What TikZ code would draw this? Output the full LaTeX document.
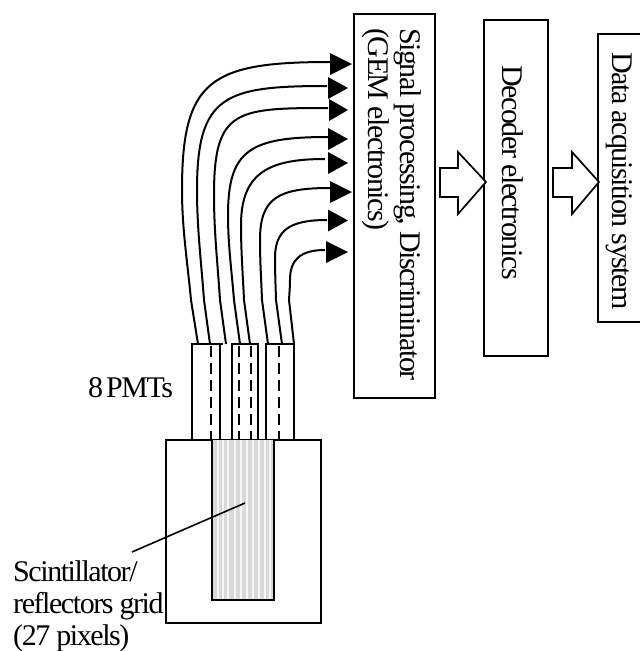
\documentclass[tikz,border=0pt]{standalone}
\usepackage{fontspec}
\setmainfont[LetterSpace=-4.8]{Liberation Serif}
\tikzset{
 x=1pt,y=-1pt,
 box/.style={draw,line width=2pt},
 lbl/.style={font=\fontsize{30}{32}\selectfont,inner sep=0pt,align=left},
 vlbl/.style={lbl,rotate=-90,anchor=base west},
 sig/.style={line width=2pt},
 head/.style={fill=black,draw=none},
 block/.style={draw,line width=1.7pt,fill=white,line join=miter},
 pmt/.style={line width=2pt},
 dashline/.style={line width=1.8pt,dash pattern=on 11pt off 6pt},
}
\newcommand{\sigline}[9]{%
 \coordinate (s#1) at (#2,344);
 \coordinate (e#1) at (#8,#9);
 \draw[sig] (s#1) -- (#3,300) .. controls ({#3*.6+#4*.4},{300-(300-#5)*.35}) and (#4,{300-(300-#5)*.65}) .. (#4,#5) .. controls (#4,#6) and (#7,#9) .. (e#1);
}
\newcommand{\tip}[5]{%
 \fill[head] (#2,#4-#5) -- (#3,#4) -- (#2,#4+#5) -- cycle;
}
\begin{document}
\begin{tikzpicture}
\useasboundingbox (0,0) rectangle (640,651);
\sigline{1}{198}{191}{182}{190}{80}{210}{330}{62}
\sigline{2}{210}{204}{197}{190}{95}{225}{327}{86}
\sigline{3}{226}{220}{214}{195}{110}{235}{328}{108}
\sigline{4}{240}{234}{228}{215}{150}{250}{328}{137}
\sigline{5}{250}{244}{241}{225}{172}{270}{325}{159}
\sigline{6}{268}{262}{260}{240}{198}{278}{330}{188}
\sigline{7}{282}{276}{275}{258}{230}{290}{327}{220}
\sigline{8}{294}{289}{290}{280}{260}{300}{325}{250}
\tip{1}{330}{352}{64}{11}
\tip{2}{328}{348}{88}{11}
\tip{3}{329}{348}{110}{11}
\tip{4}{328}{348}{139}{11}
\tip{5}{328}{348}{163}{11}
\tip{6}{330}{352}{192}{11}
\tip{7}{328}{348}{220.5}{11}
\tip{8}{326}{348}{252}{11}
\draw[pmt] (192,440) -- (192,344) -- (223,344);
\draw[pmt] (220,344) -- (220,440);
\draw[pmt] (232,440) -- (232,344) -- (259,344);
\draw[pmt] (258,344) -- (258,440);
\draw[pmt] (266,440) -- (266,344) -- (294,344) -- (294,440);
\foreach \x in {211,239,251,279} \draw[dashline] (\x,346) -- (\x,440);
\draw[line width=2pt] (166,440) rectangle (320.5,623);
\fill[gray!30] (212,440) rectangle (274,600);
\foreach \x in {217,222,227,234,240,246,252,258,264,269} \fill[gray!6] (\x,440) rectangle (\x+2.2,600);
\draw[line width=1.6pt] (212,440) -- (212,600) -- (274,600) -- (274,440);
\node[box,minimum width=81pt,minimum height=384pt,inner sep=0pt] (sp) at (394,206) {};
\node[box,minimum width=64pt,minimum height=336pt,inner sep=0pt] (dec) at (516,188) {};
\draw[line width=2pt] (645,322) -- (598,322) -- (598,34) -- (645,34);
\draw[block] (440,168) -- (458,168) -- (458,152) -- (486,182) -- (458,214) -- (458,197) -- (440,197) -- cycle;
\draw[block] (553,168) -- (572,168) -- (572,152) -- (599,182) -- (572,214) -- (572,197) -- (553,197) -- cycle;
\node[vlbl] (t1) at (400,28) {Signal processing, Discriminator};
\node[vlbl] (t1b) at (368,28) {(GEM electronics)};
\node[vlbl] (t2) at (502,65) {Decoder electronics};
\node[vlbl] (t3) at (612,52) {Data acquisition system};
\node[lbl,anchor=base west] (t4) at (88,397) {\spaceskip=.1em 8 PMTs};
\node[lbl,anchor=base west] (t5) at (13,581) {Scintillator/};
\node[lbl,anchor=base west] (t6) at (13,613) {reflectors grid};
\node[lbl,anchor=base west] (t7) at (13,645) {(27 pixels)};
\draw[line width=1.6pt] (132,552) -- (245,503);
\end{tikzpicture}
\end{document}
